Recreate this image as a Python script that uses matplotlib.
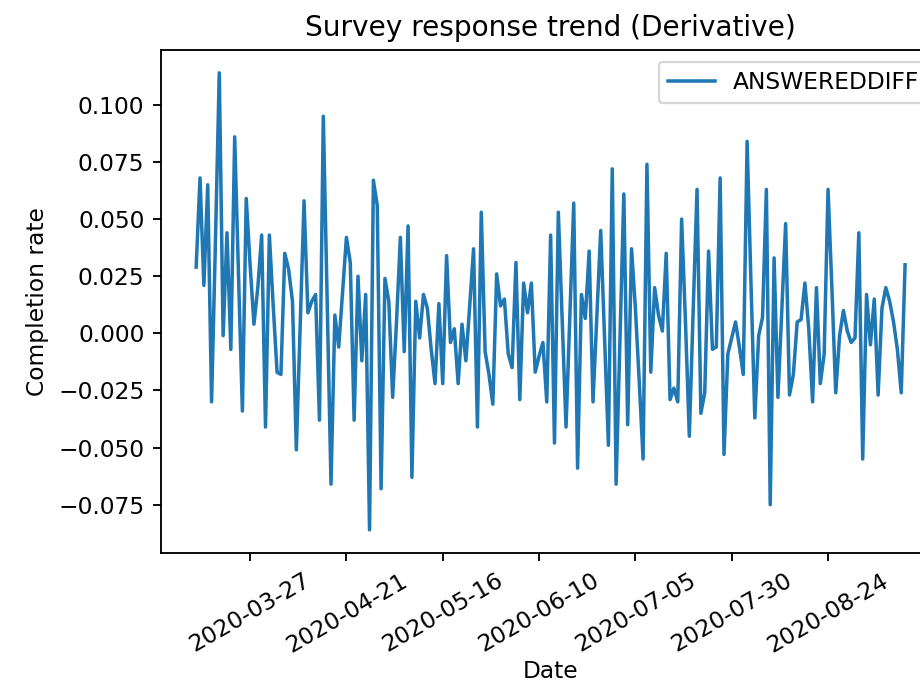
import datetime as dt

import matplotlib
matplotlib.use("Agg")
import matplotlib.pyplot as plt
import matplotlib.dates as mdates

start_date = dt.date(2020, 3, 13)

answered_diff = [
    0.029, 0.068, 0.021, 0.065, -0.030, 0.040, 0.114, -0.001, 0.044, -0.007,
    0.086, 0.025, -0.034, 0.059, 0.030, 0.004, 0.020, 0.043, -0.041, 0.043,
    0.012, -0.017, -0.018, 0.035,
    0.028, 0.014, -0.051, 0.003, 0.058, 0.009, 0.014, 0.017, -0.038, 0.095,
    0.015, -0.066, 0.008, -0.006, 0.018, 0.042, 0.031, -0.038, 0.025, -0.012,
    0.017, -0.086, 0.067, 0.056, -0.068,
    0.024, 0.014, -0.028, 0.005, 0.042, -0.008, 0.047, -0.063, 0.014, -0.002,
    0.017, 0.011, -0.007, -0.022, 0.013, -0.022, 0.034, -0.004, 0.002, -0.022,
    0.004, -0.012, 0.012, 0.037, -0.041, 0.053,
    -0.008, -0.018, -0.031, 0.026, 0.012, 0.015, -0.009, -0.015, 0.031, -0.029,
    0.022, 0.009, 0.022, -0.017, -0.010, -0.004, -0.030, 0.043, -0.048, 0.053,
    0.006, -0.041, 0.008, 0.057, -0.059, 0.017,
    0.0065, 0.036, -0.030, 0.007, 0.045, -0.002, -0.049, 0.072, -0.066, -0.003,
    0.061, -0.040, 0.037, 0.011, -0.021, -0.055, 0.074, -0.017, 0.020, 0.008,
    0.001, 0.035, -0.029, -0.024, -0.030, 0.050,
    0.005, -0.045, 0.010, 0.063, -0.035, -0.026, 0.036, -0.007, -0.006, 0.068,
    -0.053, -0.009, -0.002, 0.005, -0.006, -0.018, 0.084, 0.022, -0.037, -0.001,
    0.007, 0.063, -0.075, 0.033, -0.028, 0.010, 0.048,
    -0.027, -0.018, 0.005, 0.006, 0.022, 0.002, -0.030, 0.020, -0.022, -0.009,
    0.063, 0.020, -0.026, -0.001, 0.010, 0.001, -0.004, -0.002, 0.044, -0.055,
    0.017, -0.005, 0.015, -0.027, 0.011, 0.020, 0.014, 0.005, -0.007, -0.026,
    0.030,
]

tick_labels = ["2020-03-27", "2020-04-21", "2020-05-16", "2020-06-10",
               "2020-07-05", "2020-07-30", "2020-08-24"]

dates = [start_date + dt.timedelta(days=i) for i in range(len(answered_diff))]

dpi = 168
fig = plt.figure(figsize=(921 / dpi, 687 / dpi), dpi=dpi)
# axes runs a little past the right edge, like the cropped screenshot
ax = fig.add_axes([0.1745, 0.1955, 0.8467, 0.7317])

ax.plot(dates, answered_diff, color="#1f77b4", linewidth=1.5, label="ANSWEREDDIFF")

ticks = [dt.datetime.strptime(t, "%Y-%m-%d").date() for t in tick_labels]
ax.set_xticks(ticks)
ax.xaxis.set_major_formatter(mdates.DateFormatter("%Y-%m-%d"))
plt.setp(ax.get_xticklabels(), rotation=30)

ax.set_title("Survey response trend (Derivative)")
ax.set_xlabel("Date", labelpad=1.5)
ax.set_ylabel("Completion rate")
ax.legend(loc="upper right")

fig.savefig("out.png", dpi=dpi)
